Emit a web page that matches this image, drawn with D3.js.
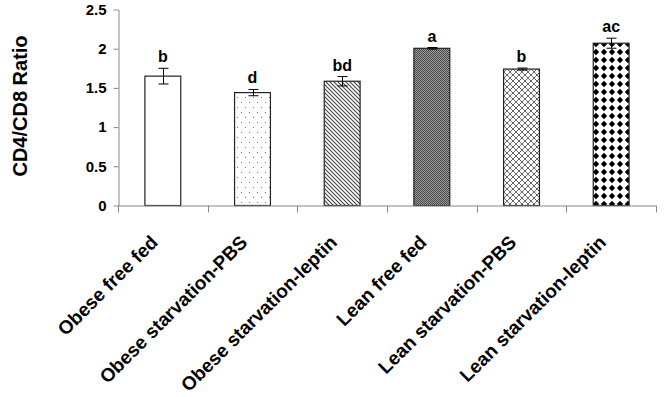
<!DOCTYPE html>
<html>
<head>
<meta charset="utf-8">
<script src="https://cdn.jsdelivr.net/npm/d3@7"></script>
<style>
  body { margin: 0; background: #fff; }
  text { font-family: "Liberation Sans", Arial, sans-serif; font-weight: bold; fill: #000; }
</style>
</head>
<body>
<div id="chart"></div>
<script>
const groups = ["Obese free fed", "Obese starvation-PBS", "Obese starvation-leptin",
                "Lean free fed", "Lean starvation-PBS", "Lean starvation-leptin"];
const ratio = [1.65, 1.44, 1.585, 2.005, 1.74, 2.07];
const sem = [0.10, 0.04, 0.06, 0.01, 0.013, 0.064];
const letters = ["b", "d", "bd", "a", "b", "ac"];
const yTicks = [0, 0.5, 1, 1.5, 2, 2.5];
const patterns = ["blank", "dots", "hatch", "checker", "cross", "diamond"];

const W = 665, H = 397;
const svg = d3.select("#chart").append("svg")
    .attr("width", W).attr("height", H);

// fill patterns (Excel style)
const defs = svg.append("defs");

const pDots = defs.append("pattern").attr("id", "dots")
    .attr("patternUnits", "userSpaceOnUse").attr("width", 8).attr("height", 10);
pDots.append("rect").attr("width", 8).attr("height", 10).attr("fill", "#fff");
pDots.append("rect").attr("x", 1).attr("y", 2).attr("width", 1).attr("height", 1).attr("fill", "#777");
pDots.append("rect").attr("x", 5).attr("y", 7).attr("width", 1).attr("height", 1).attr("fill", "#777");

const pHatch = defs.append("pattern").attr("id", "hatch")
    .attr("patternUnits", "userSpaceOnUse").attr("width", 4).attr("height", 4);
pHatch.append("rect").attr("width", 4).attr("height", 4).attr("fill", "#fff");
pHatch.append("path").attr("d", "M-1,-1L5,5M-1,3L1,5M3,-1L5,1")
    .attr("stroke", "#444").attr("stroke-width", 1.1);

const pChecker = defs.append("pattern").attr("id", "checker")
    .attr("patternUnits", "userSpaceOnUse").attr("width", 2).attr("height", 2);
pChecker.append("rect").attr("width", 2).attr("height", 2).attr("fill", "#9a9a9a");
pChecker.append("rect").attr("width", 1).attr("height", 1).attr("fill", "#4a4a4a");
pChecker.append("rect").attr("x", 1).attr("y", 1).attr("width", 1).attr("height", 1).attr("fill", "#4a4a4a");

const pCross = defs.append("pattern").attr("id", "cross")
    .attr("patternUnits", "userSpaceOnUse").attr("width", 6).attr("height", 6);
pCross.append("rect").attr("width", 6).attr("height", 6).attr("fill", "#fff");
pCross.append("path").attr("d", "M0,0L6,6M6,0L0,6")
    .attr("stroke", "#666").attr("stroke-width", 1);

const pDiamond = defs.append("pattern").attr("id", "diamond")
    .attr("patternUnits", "userSpaceOnUse").attr("width", 8).attr("height", 8);
pDiamond.append("rect").attr("width", 8).attr("height", 8).attr("fill", "#fff");
pDiamond.append("path").attr("d", "M4,0.8L7.2,4L4,7.2L0.8,4Z").attr("fill", "#000");

const fillFor = p => p === "blank" ? "#fff" : `url(#${p})`;

// scales
const x = d3.scaleBand().domain(groups).range([118, 656]).padding(0);
const y = d3.scaleLinear().domain([0, 2.5]).range([205.5, 9.5]);
const barW = x.bandwidth() * 0.4;

const data = groups.map((g, i) => ({
    g: g, v: ratio[i], e: sem[i], lab: letters[i], pat: patterns[i]
}));

// y axis
const yAxis = svg.append("g")
    .attr("transform", "translate(118.5,0)")
    .call(d3.axisLeft(y).tickValues(yTicks).tickSize(5).tickSizeOuter(0).tickPadding(7)
        .tickFormat(d3.format("")));
yAxis.select(".domain").attr("stroke", "#888");
yAxis.selectAll(".tick line").attr("stroke", "#888");
yAxis.selectAll("text").style("font-size", "15px").style("font-family", "Liberation Sans, Arial, sans-serif")
    .style("font-weight", "bold").attr("fill", "#000");

// bars
svg.selectAll(".bar")
    .data(data)
    .enter()
    .append("rect")
    .attr("class", "bar")
    .attr("x", d => x(d.g) + (x.bandwidth() - barW) / 2)
    .attr("y", d => y(d.v))
    .attr("width", barW)
    .attr("height", d => y(0) - y(d.v))
    .attr("fill", d => fillFor(d.pat))
    .attr("stroke", "#222")
    .attr("stroke-width", 1.2);

// x axis with ticks at the category boundaries
const xAxis = svg.append("g");
xAxis.append("line")
    .attr("x1", x.range()[0]).attr("x2", x.range()[1])
    .attr("y1", y(0) + 0.5).attr("y2", y(0) + 0.5)
    .attr("stroke", "#888");
const bounds = groups.map(g => x(g)).concat([x.range()[1]]);
xAxis.selectAll(".xt")
    .data(bounds)
    .enter()
    .append("line")
    .attr("x1", d => Math.round(d) + 0.5).attr("x2", d => Math.round(d) + 0.5)
    .attr("y1", y(0)).attr("y2", y(0) + 7)
    .attr("stroke", "#888");

// error bars
const err = svg.append("g").attr("stroke", "#000").attr("stroke-width", 1);
data.forEach(d => {
    const cx = Math.round(x(d.g) + x.bandwidth() / 2) + 0.5;
    err.append("line").attr("x1", cx).attr("x2", cx)
        .attr("y1", y(d.v - d.e)).attr("y2", y(d.v + d.e));
    err.append("line").attr("x1", cx - 5).attr("x2", cx + 5)
        .attr("y1", y(d.v + d.e)).attr("y2", y(d.v + d.e));
    err.append("line").attr("x1", cx - 5).attr("x2", cx + 5)
        .attr("y1", y(d.v - d.e)).attr("y2", y(d.v - d.e));
});

// significance letters
svg.selectAll(".sig")
    .data(data)
    .enter()
    .append("text")
    .attr("class", "sig")
    .attr("x", d => x(d.g) + x.bandwidth() / 2)
    .attr("y", d => y(d.v + d.e) - 6)
    .attr("text-anchor", "middle")
    .style("font-size", "16px")
    .text(d => d.lab);

// category labels, rotated
svg.selectAll(".cat")
    .data(groups)
    .enter()
    .append("text")
    .attr("class", "cat")
    .attr("text-anchor", "end")
    .attr("transform", d => `translate(${x(d) + x.bandwidth() / 2 - 4},${y(0) + 38}) rotate(-45)`)
    .style("font-size", "19px")
    .text(d => d);

// y axis title
svg.append("text")
    .attr("text-anchor", "middle")
    .attr("transform", "translate(27,106) rotate(-90)")
    .style("font-size", "20px")
    .text("CD4/CD8 Ratio");
</script>
</body>
</html>
